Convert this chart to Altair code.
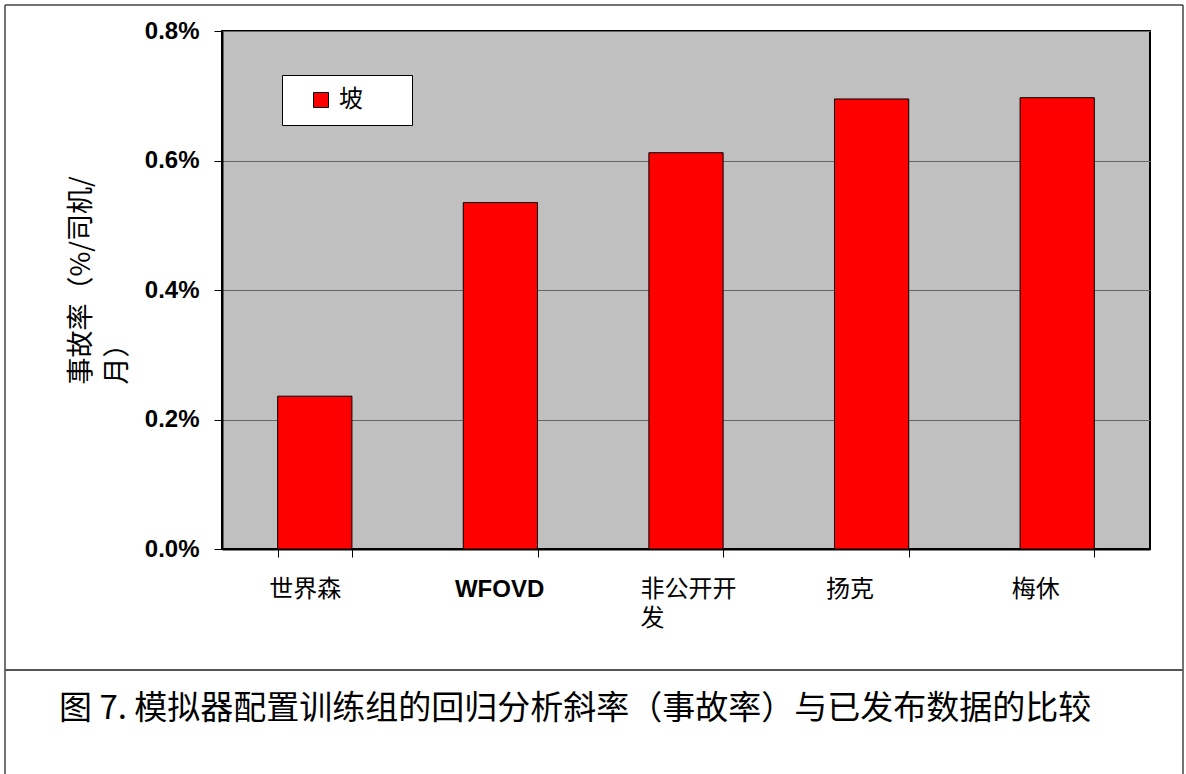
import altair as alt
import pandas as pd

categories = ["世界森", "WFOVD", "非公开开发", "扬克", "梅休"]
values_pct = [0.236, 0.535, 0.612, 0.695, 0.697]
series_name = "坡"
y_ticks = [0.0, 0.2, 0.4, 0.6, 0.8]
y_title = ["事故率（%/司机/", "月）"]
caption = "图 7.  模拟器配置训练组的回归分析斜率（事故率）与已发布数据的比较"

df = pd.DataFrame({"cat": categories, "val": values_pct, "series": [series_name] * len(categories)})

CJK = "Noto Sans CJK SC"
LAT = "Liberation Sans"

bars = alt.Chart(df).mark_bar(stroke="black", strokeWidth=1).encode(
    x=alt.X(
        "cat:N",
        sort=categories,
        scale=alt.Scale(paddingInner=0.6, paddingOuter=0.3),
        axis=alt.Axis(
            title=None,
            tickBand="extent",
            tickSize=8,
            tickColor="black",
            domainColor="black",
            domainWidth=2,
            labelAngle=0,
            labelFontSize=24,
            labelColor="black",
            labelAlign="left",
            labelBaseline="top",
            labelOffset=-46,
            labelPadding=20,
            labelLineHeight=29,
            labelFont={"condition": {"test": "datum.value == 'WFOVD'", "value": LAT}, "value": CJK},
            labelFontWeight={"condition": {"test": "datum.value == 'WFOVD'", "value": "bold"}, "value": "normal"},
            labelExpr="datum.value == '非公开开发' ? ['非公开开', '发'] : datum.label",
            grid=False,
        ),
    ),
    y=alt.Y(
        "val:Q",
        scale=alt.Scale(domain=[0, 0.8], nice=False),
        axis=alt.Axis(
            values=y_ticks,
            labelExpr="format(datum.value, '.1f') + '%'",
            labelFont=LAT,
            labelFontWeight="bold",
            labelFontSize=24,
            labelColor="black",
            labelPadding=15,
            tickSize=8,
            tickColor="black",
            domainColor="black",
            domainWidth=2,
            grid=True,
            gridColor="#666666",
            gridWidth=1,
            title=y_title,
            titleFont=CJK,
            titleFontSize=27,
            titleFontWeight="normal",
            titleColor="black",
            titleLineHeight=36,
            titleAngle=270,
            titleAlign="left",
            titleBaseline="top",
            titleX=-154,
            titleY=353,
        ),
    ),
    color=alt.Color(
        "series:N",
        scale=alt.Scale(range=["#FF0000"]),
        legend=alt.Legend(
            title=None,
            orient="none",
            legendX=60,
            legendY=44,
            fillColor="white",
            strokeColor="black",
            padding=13,
            symbolType="square",
            symbolSize=225,
            symbolStrokeColor="black",
            symbolStrokeWidth=1,
            symbolOffset=14,
            labelOffset=6,
            labelFont=CJK,
            labelFontSize=24,
            labelColor="black",
            labelExpr="datum.label + '\u2800\u2800'",
        ),
    ),
)

one = pd.DataFrame({"caption": [caption]})

cap = alt.Chart(one).mark_text(
    align="left", baseline="middle", font=CJK, fontSize=33, color="black"
).encode(x=alt.value(-163), y=alt.value(678), text="caption:N")

frame_style = dict(color="#444444", strokeWidth=1.5)
top_line = alt.Chart(one).mark_rule(**frame_style).encode(x=alt.value(-217), x2=alt.value(961), y=alt.value(-26))
left_line = alt.Chart(one).mark_rule(**frame_style).encode(x=alt.value(-217), y=alt.value(-26), y2=alt.value(743))
right_line = alt.Chart(one).mark_rule(**frame_style).encode(x=alt.value(961), y=alt.value(-26), y2=alt.value(743))
divider = alt.Chart(one).mark_rule(color="#555555", strokeWidth=2).encode(x=alt.value(-217), x2=alt.value(961), y=alt.value(639))

chart = alt.layer(bars, cap, top_line, left_line, right_line, divider).properties(
    width=928,
    height=518,
    autosize=alt.AutoSizeParams(type="none"),
    padding={"left": 222, "top": 31, "right": 36, "bottom": 225},
    background="white",
).configure_view(fill="#C0C0C0", stroke="black", strokeWidth=2)

chart.save("out.html", embed_options={"renderer": "svg", "actions": False})
